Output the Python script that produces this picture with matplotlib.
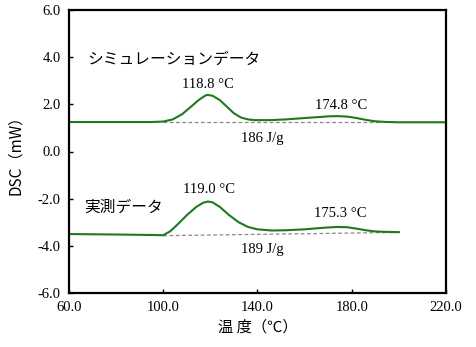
import matplotlib
matplotlib.use("Agg")
import matplotlib.pyplot as plt

# simulated DSC curve (temperature in C, heat flow in mW)
sim_t = [60, 80, 95, 100, 104, 108, 112, 115, 118, 119, 121, 124, 127, 130, 133, 136,
         139, 145, 152, 160, 166, 170, 174, 178, 182, 186, 190, 195, 200, 210, 220]
sim_y = [1.25, 1.25, 1.25, 1.27, 1.36, 1.58, 1.92, 2.18, 2.38, 2.40, 2.36, 2.18, 1.90, 1.62, 1.44, 1.36,
         1.33, 1.33, 1.36, 1.42, 1.46, 1.49, 1.50, 1.48, 1.42, 1.34, 1.28, 1.25, 1.24, 1.24, 1.24]

# measured DSC curve
exp_t = [60, 80, 95, 100, 103, 106, 110, 114, 117, 119, 121, 124, 128, 132, 136, 140,
         146, 152, 160, 166, 170, 174, 178, 182, 186, 190, 195, 200]
exp_y = [-3.50, -3.52, -3.54, -3.55, -3.38, -3.10, -2.70, -2.35, -2.17, -2.12, -2.16, -2.35, -2.70, -3.00, -3.20, -3.30,
         -3.35, -3.34, -3.30, -3.25, -3.22, -3.20, -3.21, -3.27, -3.34, -3.39, -3.41, -3.42]

# integration baselines
sim_base_t = [100, 192]
sim_base_y = [1.25, 1.25]
exp_base_t = [100, 200]
exp_base_y = [-3.57, -3.43]

# peak labels: (x, y, text)
peak_labels = [(119.0, 2.85, "118.8 °C"), (175.3, 1.95, "174.8 °C"), (142.0, 0.55, "186 J/g"),
               (119.5, -1.62, "119.0 °C"), (175.0, -2.62, "175.3 °C"), (142.0, -4.15, "189 J/g")]

xticks = [60, 100, 140, 180, 220]
yticks = [-6, -4, -2, 0, 2, 4, 6]

jp = ["Noto Sans CJK JP", "DejaVu Sans"]
serif = "Liberation Serif"

fig = plt.figure(figsize=(4.77, 3.47), dpi=100)
ax = fig.add_axes([69 / 477, 54 / 347, 377 / 477, 283 / 347])

green = "#1d7a1d"
ax.plot(sim_base_t, sim_base_y, color="#8a8a8a", lw=0.9, ls=(0, (3, 2)))
ax.plot(exp_base_t, exp_base_y, color="#8a8a8a", lw=0.9, ls=(0, (3, 2)))
ax.plot(sim_t, sim_y, color=green, lw=1.5)
ax.plot(exp_t, exp_y, color=green, lw=1.5)

for x, y, s in peak_labels:
    ax.text(x, y, s, ha="center", va="center", fontsize=10.5, family=serif)

ax.text(67.8, 3.9, "シミュレーションデータ", fontsize=11.3, family=jp, va="center")
ax.text(66.6, -2.35, "実測データ", fontsize=11.3, family=jp, va="center")

ax.set_xlim(60, 220)
ax.set_ylim(-6, 6)
ax.set_xticks(xticks)
ax.set_yticks(yticks)
ax.set_xticklabels(["%.1f" % v for v in xticks], family=serif, fontsize=10.5)
ax.set_yticklabels(["%.1f" % v for v in yticks], family=serif, fontsize=10.5)
ax.tick_params(direction="in", length=3, width=1, pad=6)

for sp in ax.spines.values():
    sp.set_linewidth(1.6)

ax.set_xlabel("温 度（℃）", family=jp, fontsize=11, labelpad=3)
ax.set_ylabel("DSC（mW）", family=jp, fontsize=11, labelpad=10)

fig.savefig("out.png", dpi=100)
